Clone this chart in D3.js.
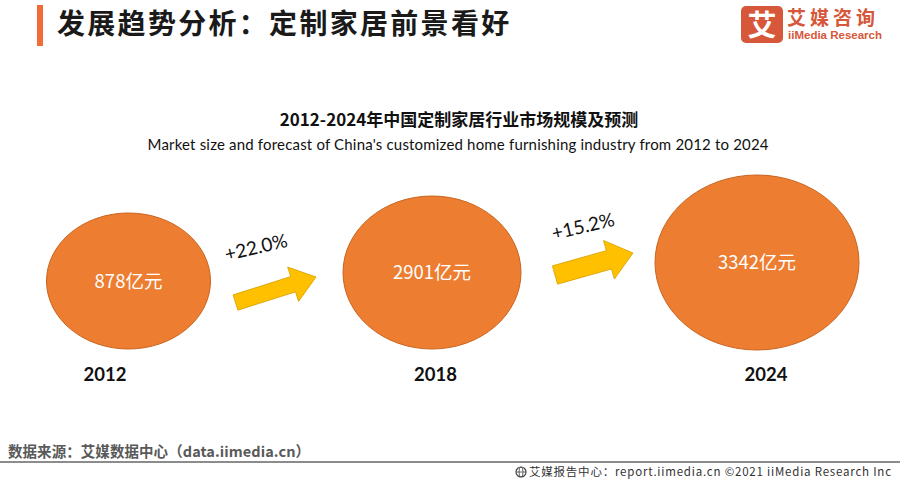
<!DOCTYPE html>
<html>
<head>
<meta charset="utf-8">
<script src="https://cdn.jsdelivr.net/npm/d3@7"></script>
<style>
html,body{margin:0;padding:0;background:#fff;}
svg{display:block;}
</style>
</head>
<body>
<svg id="chart" width="900" height="480"></svg>
<script>
// ---- data ----
const years = ["2012", "2018", "2024"];
const marketSize = [878, 2901, 3342];           // 亿元
const sizeLabels = ["878亿元", "2901亿元", "3342亿元"];
const growthLabels = ["+22.0%", "+15.2%"];
const pageTitle = "发展趋势分析：定制家居前景看好";
const chartTitleCn = "2012-2024年中国定制家居行业市场规模及预测";
const chartTitleEn = "Market size and forecast of China's customized home furnishing industry from 2012 to 2024";
const sourceText = "数据来源：艾媒数据中心（data.iimedia.cn）";
const footerText = "艾媒报告中心：report.iimedia.cn    ©2021  iiMedia Research  Inc";

// ---- drawing ----
const svg = d3.select("#chart");
const cjk = "'Noto Sans CJK SC', 'Noto Sans', sans-serif";
const latin = "Lato, 'Noto Sans', sans-serif";

// header
svg.append("rect").attr("x", 37).attr("y", 5).attr("width", 6).attr("height", 41).attr("fill", "#F26A36");
svg.append("text").attr("x", 57).attr("y", 34)
  .attr("font-family", cjk).attr("font-size", 28).attr("font-weight", 600)
  .attr("letter-spacing", 2.3).attr("fill", "#1a1a1a").text(pageTitle);

// logo
const logoColor = "#D6573A";
svg.append("rect").attr("x", 741).attr("y", 6).attr("width", 42).attr("height", 37).attr("rx", 5).attr("fill", logoColor);
svg.append("text").attr("x", 762).attr("y", 36).attr("text-anchor", "middle")
  .attr("font-family", cjk).attr("font-size", 29).attr("font-weight", 700).attr("fill", "#fff").text("艾");
svg.append("text").attr("x", 787).attr("y", 25)
  .attr("font-family", cjk).attr("font-size", 19).attr("font-weight", 700).attr("letter-spacing", 4)
  .attr("fill", logoColor).text("艾媒咨询");
svg.append("text").attr("x", 788).attr("y", 39)
  .attr("font-family", "'Liberation Sans', Arial, sans-serif").attr("font-size", 11.5).attr("font-weight", 700)
  .attr("textLength", 94).attr("fill", logoColor).text("iiMedia Research");

// chart titles
svg.append("text").attr("x", 459).attr("y", 126).attr("text-anchor", "middle")
  .attr("font-family", cjk).attr("font-size", 17).attr("font-weight", 700).attr("fill", "#111").text(chartTitleCn);
svg.append("text").attr("x", 458).attr("y", 150).attr("text-anchor", "middle")
  .attr("font-family", latin).attr("font-size", 15).attr("fill", "#111")
  .attr("textLength", 621).text(chartTitleEn);

// scales
const cx = d3.scaleOrdinal().domain(years).range([128.5, 432, 757]);
const cy = d3.scaleOrdinal().domain(years).range([281, 272.5, 262.5]);
const labelX = d3.scalePoint().domain(years).range([105, 766]);
const rx = d3.scaleLinear().domain(marketSize).range([82, 89, 102]);
const ry = d3.scaleLinear().domain(marketSize).range([68, 76.5, 87.5]);

const data = years.map((y, i) => ({year: y, value: marketSize[i], label: sizeLabels[i]}));

svg.selectAll("ellipse.bubble").data(data).join("ellipse")
  .attr("class", "bubble")
  .attr("cx", d => cx(d.year)).attr("cy", d => cy(d.year))
  .attr("rx", d => rx(d.value)).attr("ry", d => ry(d.value))
  .attr("fill", "#ED7D31").attr("stroke", "#C9651F").attr("stroke-width", 1);

svg.selectAll("text.val").data(data).join("text")
  .attr("class", "val")
  .attr("x", d => cx(d.year)).attr("y", d => cy(d.year) + 6.5)
  .attr("text-anchor", "middle")
  .attr("font-family", cjk).attr("font-size", 18.5).attr("fill", "#fff").text(d => d.label);

svg.selectAll("text.year").data(data).join("text")
  .attr("class", "year")
  .attr("x", d => labelX(d.year)).attr("y", 381)
  .attr("text-anchor", "middle")
  .attr("font-family", latin).attr("font-size", 18.5).attr("font-weight", 700).attr("fill", "#111").text(d => d.year);

// arrows between bubbles
const arrowGeom = [
  {tail: [235.5, 302.5], tip: [316, 277], shaft: 16, head: 36, headLen: 24, lab: [256, 247]},
  {tail: [555, 275], tip: [633, 253], shaft: 19, head: 40, headLen: 25, lab: [583, 226]}
];
growthLabels.forEach((g, i) => {
  const a = arrowGeom[i];
  const dx = a.tip[0] - a.tail[0], dy = a.tip[1] - a.tail[1];
  const len = Math.hypot(dx, dy), ang = Math.atan2(dy, dx) * 180 / Math.PI;
  const hs = a.shaft / 2, hh = a.head / 2, sl = len - a.headLen;
  const pts = [[0, -hs], [sl, -hs], [sl, -hh], [len, 0], [sl, hh], [sl, hs], [0, hs]];
  svg.append("path")
    .attr("d", d3.line()(pts) + "Z")
    .attr("transform", `translate(${a.tail[0]},${a.tail[1]}) rotate(${ang})`)
    .attr("fill", "#FFC000").attr("stroke", "#D9A300").attr("stroke-width", 0.8);
  svg.append("text")
    .attr("transform", `translate(${a.lab[0]},${a.lab[1]}) rotate(-13)`)
    .attr("text-anchor", "middle").attr("dy", 7)
    .attr("font-family", latin).attr("font-size", 19).attr("fill", "#111").text(g);
});

// footer
svg.append("text").attr("x", 8).attr("y", 457)
  .attr("font-family", cjk).attr("font-size", 14.5).attr("font-weight", 700).attr("fill", "#595959")
  .attr("textLength", 302).text(sourceText);
svg.append("line").attr("x1", 0).attr("x2", 900).attr("y1", 462).attr("y2", 462)
  .attr("stroke", "#8c8c8c").attr("stroke-width", 2);
const gx = 521, gy = 472;
svg.append("circle").attr("cx", gx).attr("cy", gy).attr("r", 5).attr("fill", "none").attr("stroke", "#444").attr("stroke-width", 1.2);
svg.append("ellipse").attr("cx", gx).attr("cy", gy).attr("rx", 2).attr("ry", 5).attr("fill", "none").attr("stroke", "#444").attr("stroke-width", 0.8);
svg.append("line").attr("x1", gx - 5).attr("x2", gx + 5).attr("y1", gy).attr("y2", gy).attr("stroke", "#444").attr("stroke-width", 0.8);
svg.append("text").attr("x", 529).attr("y", 476)
  .attr("font-family", cjk).attr("font-size", 11.5).attr("fill", "#333")
  .attr("textLength", 362).text(footerText);
</script>
</body>
</html>
